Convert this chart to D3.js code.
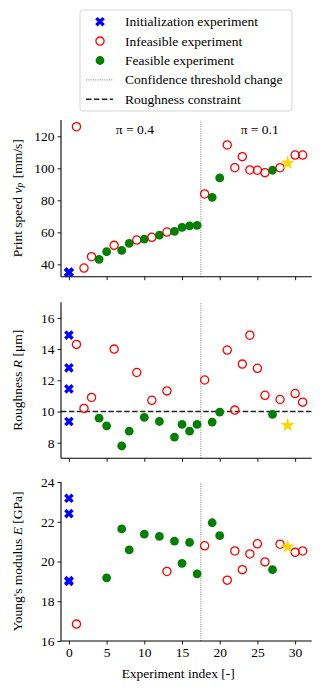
<!DOCTYPE html>
<html>
<head>
<meta charset="utf-8">
<script src="https://cdn.jsdelivr.net/npm/d3@7"></script>
<style>
  body { margin: 0; background: #fff; }
  svg { font-family: "Liberation Serif", "Times New Roman", serif; }
</style>
</head>
<body>
<div id="chart"></div>
<script>
// experiment index and type of every experiment
const expIndex = [0, 0, 0, 0, 1, 2, 3, 4, 5, 6, 7, 8, 9, 10, 11, 12, 13, 14, 15, 16, 17,
                  18, 19, 20, 21, 22, 23, 24, 25, 26, 27, 28, 29, 30, 31];
const expType = ["init", "init", "init", "init",
  "infeasible", "infeasible", "infeasible", "feasible", "feasible", "infeasible", "feasible",
  "feasible", "infeasible", "feasible", "infeasible", "feasible", "infeasible", "feasible",
  "feasible", "feasible", "feasible",
  "infeasible", "feasible", "feasible", "infeasible", "infeasible", "infeasible", "infeasible",
  "infeasible", "infeasible", "feasible", "infeasible", "best", "infeasible", "infeasible"];

const printSpeed = [35, 35, 35, 35, 126, 37.7, 44.8, 43.1, 47.9, 51.9, 48.7, 53.1, 55.2, 55.8,
  56.9, 58.3, 60.2, 60.6, 63.1, 64, 64.4, 84, 81.9, 94, 114.6, 100.4, 107.3, 99, 98.8, 97.3,
  98.8, 100.4, 103.3, 108.3, 108.3];
const roughness = [14.9, 12.8, 11.45, 9.36, 14.3, 10.2, 10.9, 9.57, 9.08, 14.0, 7.79, 8.74,
  12.5, 9.62, 10.72, 9.36, 11.32, 8.36, 9.17, 8.74, 9.17, 12.02, 9.32, 9.96, 13.94, 10.09,
  13.04, 14.89, 12.77, 11.04, 9.81, 10.77, 9.11, 11.15, 10.6];
const youngs = [23.18, 22.41, 19.04, 19.0, 16.85, null, null, null, 19.18, null, 21.64, 20.58,
  null, 21.38, null, 21.26, 19.5, 21.03, 19.91, 20.96, 19.38, 20.79, 21.95, 21.3, 19.06, 20.53,
  19.59, 20.38, 20.89, 19.98, 19.59, 20.87, 20.74, 20.46, 20.53];

const xTicks = [0, 5, 10, 15, 20, 25, 30];
const speedTicks = [40, 60, 80, 100, 120];
const roughTicks = [8, 10, 12, 14, 16];
const youngTicks = [16, 18, 20, 22, 24];

const thresholdChange = 17.5;
const roughnessLimit = 10;
const piLabels = ["\u03c0 = 0.4", "\u03c0 = 0.1"];
const piLabelX = [8.75, 25.3];

const legendLabels = ["Initialization experiment", "Infeasible experiment", "Feasible experiment",
  "Confidence threshold change", "Roughness constraint"];

const W = 321, H = 691;
const FS = "13.5px";
const svg = d3.select("#chart").append("svg")
  .attr("width", W).attr("height", H)
  .style("font-size", FS);

const x = d3.scaleLinear().domain([-1.05, 32.2]).range([61, 311.7]);

const panels = [
  { values: printSpeed, domain: [32.3, 130.2], range: [276.7, 120], ticks: speedTicks,
    label: ["Print speed ", ["v", "italic"], ["p", "sub"], " [mm/s]"] },
  { values: roughness, domain: [7, 17], range: [458.3, 302.3], ticks: roughTicks,
    label: ["Roughness ", ["R", "italic"], " [\u03bcm]"] },
  { values: youngs, domain: [16, 24], range: [641, 482], ticks: youngTicks,
    label: ["Young's modulus ", ["E", "italic"], " [GPa]"] }
];

const crossPath = d3.symbol().type(d3.symbolCross).size(58)();
const starPath = d3.symbol().type(d3.symbolStar).size(64)();

function drawMarker(sel, type) {
  if (type === "init") {
    sel.append("path").attr("d", crossPath).attr("transform", "rotate(45)")
      .attr("fill", "#0000ff");
  } else if (type === "infeasible") {
    sel.append("circle").attr("r", 4.1).attr("fill", "none")
      .attr("stroke", "#ff0000").attr("stroke-width", 1.3);
  } else if (type === "feasible") {
    sel.append("circle").attr("r", 4.4).attr("fill", "#008000");
  } else {
    sel.append("path").attr("d", starPath).attr("fill", "#ffd700");
  }
}

function writeLabel(text, parts) {
  parts.forEach(p => {
    if (typeof p === "string") {
      text.append("tspan").text(p);
    } else if (p[1] === "italic") {
      text.append("tspan").attr("font-style", "italic").text(p[0]);
    } else {
      text.append("tspan").attr("font-style", "italic").attr("font-size", "9.5px")
        .attr("dy", "3").text(p[0]);
      text.append("tspan").attr("dy", "-3").text("\u200a");
    }
  });
}

panels.forEach((p, k) => {
  const y = d3.scaleLinear().domain(p.domain).range(p.range);
  const g = svg.append("g");

  // threshold line
  g.append("line")
    .attr("x1", x(thresholdChange)).attr("x2", x(thresholdChange))
    .attr("y1", p.range[0]).attr("y2", p.range[1])
    .attr("stroke", "#555").attr("stroke-width", 0.8).attr("stroke-dasharray", "1,1.3");

  if (k === 1) {
    g.append("line")
      .attr("x1", x.range()[0]).attr("x2", x.range()[1])
      .attr("y1", y(roughnessLimit)).attr("y2", y(roughnessLimit))
      .attr("stroke", "#222").attr("stroke-width", 1.5).attr("stroke-dasharray", "5.5,2.4");
  }

  // axes
  const xAxis = d3.axisBottom(x).tickValues(xTicks).tickSize(3.5).tickPadding(3)
    .tickFormat(k === 2 ? d3.format("d") : () => "");
  const gx = g.append("g").attr("transform", `translate(0,${p.range[0]})`).call(xAxis);
  const yAxis = d3.axisLeft(y).tickValues(p.ticks).tickSize(3.5).tickPadding(3)
    .tickFormat(d3.format("d"));
  const gy = g.append("g").attr("transform", `translate(${x.range()[0]},0)`).call(yAxis);
  [gx, gy].forEach(a => {
    a.selectAll("path").attr("stroke", "#000").attr("stroke-width", 1.1)
      .attr("d", a === gx ? `M${x.range()[0]},0H${x.range()[1]}` : `M0,${p.range[0]}V${p.range[1]}`);
    a.selectAll("line").attr("stroke", "#000").attr("stroke-width", 0.9);
    a.selectAll("text").attr("fill", "#000").style("font-size", FS)
      .style("font-family", "Liberation Serif, serif");
  });

  // y label
  const cy = (p.range[0] + p.range[1]) / 2;
  const lab = g.append("text")
    .attr("transform", `translate(17,${cy}) rotate(-90)`)
    .attr("text-anchor", "middle").attr("dominant-baseline", "central");
  writeLabel(lab, p.label);

  // points
  const pts = expIndex.map((d, i) => ({ i: d, v: p.values[i], t: expType[i] }))
    .filter(d => d.v !== null);
  const order = { init: 0, infeasible: 1, feasible: 1, best: 2 };
  pts.sort((a, b) => order[a.t] - order[b.t]);
  pts.forEach(d => {
    const m = g.append("g").attr("transform", `translate(${x(d.i)},${y(d.v)})`);
    drawMarker(m, d.t);
  });

  if (k === 0) {
    piLabels.forEach((t, j) => {
      g.append("text").attr("x", x(piLabelX[j])).attr("y", y(124.5))
        .attr("text-anchor", "middle").attr("dominant-baseline", "central")
        .text(t);
    });
  }
});

// x label
svg.append("text").attr("x", x(14.5)).attr("y", 673.5)
  .attr("text-anchor", "middle").attr("dominant-baseline", "central")
  .text("Experiment index [-]");

// legend
const lg = svg.append("g");
lg.append("rect").attr("x", 80).attr("y", 10).attr("width", 212).attr("height", 101)
  .attr("rx", 3).attr("fill", "#fff").attr("fill-opacity", 0.8)
  .attr("stroke", "#d6d6d6").attr("stroke-width", 1);
const legendTypes = ["init", "infeasible", "feasible", "thresh", "rough"];
legendLabels.forEach((t, i) => {
  const ry = 21.7 + i * 19.4;
  const typ = legendTypes[i];
  if (typ === "thresh") {
    lg.append("line").attr("x1", 86).attr("x2", 113).attr("y1", ry).attr("y2", ry)
      .attr("stroke", "#555").attr("stroke-width", 0.8).attr("stroke-dasharray", "1,1.3");
  } else if (typ === "rough") {
    lg.append("line").attr("x1", 86).attr("x2", 113).attr("y1", ry).attr("y2", ry)
      .attr("stroke", "#222").attr("stroke-width", 1.5).attr("stroke-dasharray", "5.5,2.4");
  } else {
    drawMarker(lg.append("g").attr("transform", `translate(100,${ry})`), typ);
  }
  lg.append("text").attr("x", 125).attr("y", ry).attr("dominant-baseline", "central").text(t);
});
</script>
</body>
</html>
